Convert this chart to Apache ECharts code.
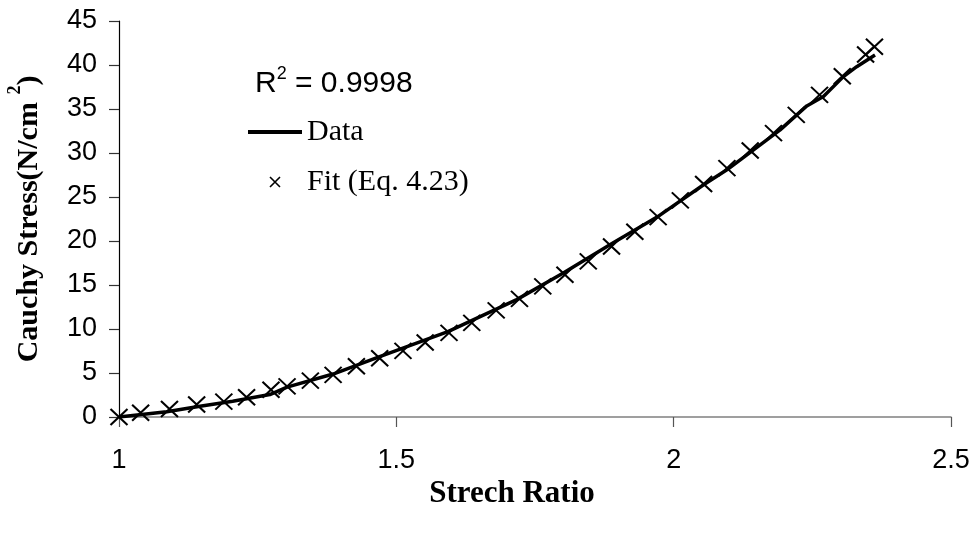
<!DOCTYPE html>
<html>
<head>
<meta charset="utf-8">
<title>Cauchy Stress vs Strech Ratio</title>
<script src="https://cdn.jsdelivr.net/npm/echarts@6/dist/echarts.min.js"></script>
<style>
  html, body { margin: 0; padding: 0; background: #fff; }
  #main { width: 975px; height: 533px; }
</style>
</head>
<body>
<div id="main"></div>
<script>
// measured data (thick line)
var dataX = [1.000, 1.086, 1.146, 1.205, 1.272, 1.303, 1.386, 1.470, 1.593, 1.717, 1.801,
  1.885, 1.970, 2.054, 2.096, 2.144, 2.192, 2.240, 2.270, 2.306, 2.330, 2.363];
var dataY = [0, 0.59, 1.23, 1.79, 2.55, 3.40, 4.88, 6.87, 9.70, 13.34, 16.37,
  19.58, 22.72, 26.39, 28.09, 30.36, 32.63, 35.35, 36.41, 38.68, 39.81, 41.14];

// fit points (x markers)
var fitX = [1.000, 1.039, 1.091, 1.140, 1.189, 1.230, 1.274, 1.303, 1.345, 1.386, 1.428, 1.470,
  1.512, 1.552, 1.595, 1.636, 1.680, 1.722, 1.764, 1.804, 1.846, 1.888, 1.930, 1.972,
  2.012, 2.054, 2.096, 2.138, 2.180, 2.221, 2.263, 2.304, 2.346, 2.362];
var fitY = [0, 0.48, 0.91, 1.42, 1.74, 2.25, 3.09, 3.48, 4.14, 4.79, 5.77, 6.67,
  7.52, 8.46, 9.56, 10.69, 12.12, 13.42, 14.85, 16.17, 17.68, 19.38, 21.05, 22.72,
  24.61, 26.48, 28.28, 30.28, 32.26, 34.33, 36.60, 38.72, 41.20, 42.08];

var seriesNames = ['Data', 'Fit (Eq. 4.23)'];
var rSquared = '0.9998';

var chartDom = document.getElementById('main');
var myChart = echarts.init(chartDom);
var option;

var crossPath = 'path://M0,0L10,10M10,0L0,10';

option = {
  backgroundColor: '#fff',
  animation: false,
  grid: {
    left: 119,
    right: 24,
    top: 21,
    bottom: 116,
    containLabel: false,
    outerBoundsMode: 'none'
  },
  legend: {
    orient: 'vertical',
    left: 243,
    top: 109,
    itemWidth: 54,
    itemHeight: 10,
    itemGap: 14,
    data: [
      { name: seriesNames[0], icon: 'path://M0,0L54,0L54,4L0,4Z', itemStyle: { color: '#000', opacity: 1 } },
      { name: seriesNames[1], icon: crossPath, itemStyle: { color: 'none', borderColor: '#000', borderWidth: 1.6, opacity: 1 } }
    ],
    textStyle: {
      fontFamily: 'Liberation Serif',
      fontSize: 30,
      lineHeight: 30,
      color: '#000',
      padding: [6, 0, 0, 0]
    }
  },
  graphic: [
    {
      type: 'text',
      left: 255,
      top: 65,
      style: {
        text: '{a|R}{s|2}{a| = ' + rSquared + '}',
        rich: {
          a: { fontFamily: 'Liberation Sans', fontSize: 30, lineHeight: 34, verticalAlign: 'bottom', fill: '#000' },
          s: { fontFamily: 'Liberation Sans', fontSize: 18, lineHeight: 34, verticalAlign: 'top', fill: '#000' }
        }
      }
    }
  ],
  xAxis: {
    type: 'value',
    min: 1,
    max: 2.5,
    interval: 0.5,
    name: 'Strech Ratio',
    nameLocation: 'middle',
    nameGap: 61,
    nameTextStyle: {
      fontFamily: 'Liberation Serif',
      fontWeight: 'bold',
      fontSize: 31,
      color: '#000',
      padding: [0, 46, 0, 0]
    },
    splitLine: { show: false },
    axisLine: { onZero: false, lineStyle: { color: '#808080', width: 1.5 } },
    axisTick: { show: true, length: 10, lineStyle: { color: '#555', width: 1.2 } },
    axisLabel: {
      margin: 30,
      fontFamily: 'Liberation Sans',
      fontSize: 27,
      color: '#000'
    }
  },
  yAxis: {
    type: 'value',
    min: 0,
    max: 45,
    interval: 5,
    name: '{a|Cauchy Stress(N/cm }{s|2}{a|)}',
    nameLocation: 'middle',
    nameGap: 75,
    nameTextStyle: {
      rich: {
        a: { fontFamily: 'Liberation Serif', fontWeight: 'bold', fontSize: 30, lineHeight: 38, verticalAlign: 'bottom', color: '#000' },
        s: { fontFamily: 'Liberation Serif', fontWeight: 'bold', fontSize: 18, lineHeight: 38, verticalAlign: 'top', color: '#000' }
      }
    },
    splitLine: { show: false },
    axisLine: { show: true, lineStyle: { color: '#000', width: 1.2 } },
    axisTick: { show: true, length: 10, lineStyle: { color: '#333', width: 1.2 } },
    axisLabel: {
      margin: 22,
      fontFamily: 'Liberation Sans',
      fontSize: 27,
      color: '#000'
    }
  },
  series: [
    {
      name: seriesNames[0],
      type: 'line',
      symbol: 'none',
      data: dataX.map(function (x, i) { return [x, dataY[i]]; }),
      lineStyle: { color: '#000', width: 3.5 },
      itemStyle: { color: '#000' },
      z: 2
    },
    {
      name: seriesNames[1],
      type: 'scatter',
      symbol: crossPath,
      symbolSize: [17, 16],
      data: fitX.map(function (x, i) { return [x, fitY[i]]; }),
      itemStyle: { color: 'none', borderColor: '#000', borderWidth: 2, opacity: 1 },
      z: 3
    }
  ]
};

option && myChart.setOption(option);
</script>
</body>
</html>
